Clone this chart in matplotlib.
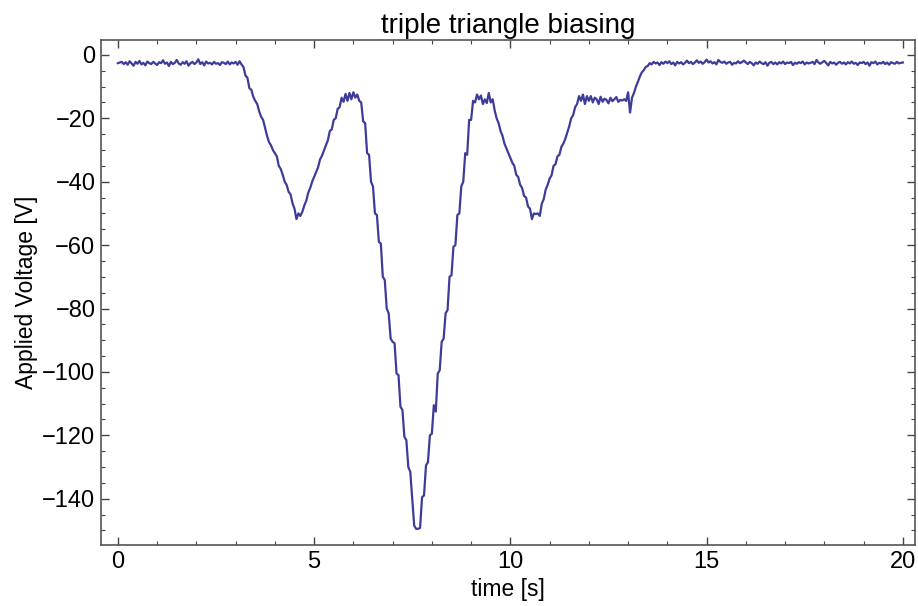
import numpy as np
import matplotlib
matplotlib.use("Agg")
import matplotlib.pyplot as plt
from matplotlib.ticker import MultipleLocator

sample_dt = 0.05
voltage = [
    # 0.00 - 0.95 s
    -2.6, -2.4, -2.2, -2.9, -2.3, -3.1, -2.0, -2.7, -3.4, -2.2, -2.8, -1.9, -3.0, -2.5, -3.3, -2.1, -2.6, -2.9, -2.2, -2.7,
    # 1.00 - 1.95 s
    -3.2, -2.3, -2.6, -1.7, -2.8, -2.4, -3.5, -2.2, -2.9, -2.5, -1.6, -2.7, -3.1, -2.3, -2.8, -2.0, -3.4, -2.6, -2.2, -2.9,
    # 2.00 - 2.95 s
    -2.4, -1.4, -2.9, -2.3, -3.3, -2.1, -2.7, -2.5, -3.0, -2.2, -2.8, -2.6, -3.2, -2.3, -2.5, -2.9, -2.1, -3.0, -2.4, -2.7,
    # 3.00 - 3.95 s
    -2.2, -3.1, -2.0, -3.0, -3.8, -6.5, -7.2, -10.5, -11.0, -13.2, -14.5, -15.5, -17.8, -19.5, -20.5, -23.0, -25.5, -27.5, -28.5, -30.0,
    # 4.00 - 4.95 s
    -31.0, -32.0, -35.0, -36.0, -37.8, -40.0, -41.0, -43.2, -44.0, -46.8, -48.5, -51.8, -50.0, -50.8, -49.5, -47.5, -46.0, -43.5, -42.0, -40.0,
    # 5.00 - 5.95 s
    -38.5, -37.0, -35.5, -33.0, -31.8, -30.2, -28.5, -27.0, -24.0, -23.5, -20.5, -20.0, -17.0, -16.5, -13.5, -14.8, -12.3, -14.5, -12.0, -14.0,
    # 6.00 - 6.95 s
    -11.8, -13.5, -12.5, -14.5, -15.0, -21.0, -21.5, -31.0, -31.5, -40.0, -41.5, -50.0, -50.5, -59.0, -59.5, -70.0, -71.0, -80.0, -81.5, -89.5,
    # 7.00 - 7.95 s
    -90.5, -91.0, -100.5, -101.0, -111.0, -112.0, -120.5, -121.5, -130.0, -131.5, -140.0, -148.5, -149.5, -149.5, -149.2, -139.5, -139.0, -129.5, -128.5, -120.0,
    # 8.00 - 8.95 s
    -119.5, -110.5, -112.5, -100.5, -99.5, -90.5, -89.5, -81.5, -80.5, -70.0, -69.5, -60.5, -60.0, -50.5, -50.0, -41.5, -40.0, -31.0, -31.5, -20.5,
    # 9.00 - 9.95 s
    -20.5, -14.5, -15.0, -12.5, -14.0, -12.8, -15.5, -14.0, -15.2, -12.0, -15.0, -14.0, -17.5, -20.0, -21.5, -24.0, -25.5, -28.0, -29.5, -31.0,
    # 10.00 - 10.95 s
    -32.5, -34.0, -35.0, -37.8, -38.5, -41.0, -42.0, -44.5, -45.0, -47.8, -48.5, -51.8, -50.0, -50.2, -50.0, -50.8, -47.0, -45.5, -42.5, -41.0,
    # 11.00 - 11.95 s
    -39.0, -38.0, -35.0, -34.5, -32.0, -31.5, -29.0, -28.0, -26.5, -24.5, -22.5, -20.0, -19.0, -16.5, -15.5, -13.0, -14.5, -12.5, -15.5, -13.0,
    # 12.00 - 12.95 s
    -14.5, -13.0, -15.0, -13.5, -14.0, -15.5, -13.2, -14.8, -13.8, -14.2, -15.3, -13.5, -14.6, -14.0, -13.3, -14.8, -14.2, -14.4, -14.0, -14.5,
    # 13.00 - 13.95 s
    -11.8, -18.2, -13.5, -12.0, -10.0, -8.5, -6.8, -5.5, -4.8, -3.8, -3.5, -2.6, -3.0, -2.2, -2.7, -2.4, -3.2, -2.3, -2.8, -2.1,
    # 14.00 - 14.95 s
    -2.6, -2.0, -2.9, -2.4, -3.3, -2.2, -2.7, -2.3, -3.0, -2.5, -1.8, -2.6, -2.2, -2.9, -2.4, -1.7, -2.5, -2.1, -2.8, -2.3,
    # 15.00 - 15.95 s
    -1.5, -2.4, -2.0, -2.7, -2.3, -3.0, -1.6, -2.2, -2.5, -2.1, -2.8, -2.4, -2.2, -3.1, -2.5, -2.7, -2.0, -2.6, -2.3, -1.8,
    # 16.00 - 16.95 s
    -2.4, -2.9, -2.2, -2.6, -3.3, -2.4, -2.8, -2.1, -2.6, -2.9, -2.3, -3.4, -2.5, -2.2, -2.9, -2.4, -3.0, -2.3, -2.7, -2.1,
    # 17.00 - 17.95 s
    -2.9, -2.4, -2.6, -2.2, -3.2, -2.5, -2.8, -2.3, -2.6, -2.1, -3.0, -2.4, -2.7, -2.5, -2.2, -2.9, -1.6, -2.4, -2.8, -2.3,
    # 18.00 - 18.95 s
    -1.9, -2.6, -3.3, -2.2, -2.7, -2.4, -3.1, -2.5, -2.2, -2.8, -2.4, -3.0, -2.3, -2.7, -2.1, -2.8, -2.5, -3.2, -2.4, -2.6,
    # 19.00 - 19.95 s
    -2.2, -2.9, -2.4, -3.4, -2.3, -2.6, -2.1, -3.0, -2.5, -2.7, -2.2, -2.9, -2.4, -3.1, -2.3, -2.6, -2.8, -2.2, -2.7, -2.5,
    # 20.00 s
    -2.4,
]
time = np.arange(len(voltage)) * sample_dt

x_major = [0, 5, 10, 15, 20]
y_major = [0, -20, -40, -60, -80, -100, -120, -140]

title = "triple triangle biasing"
xlabel = "time [s]"
ylabel = "Applied Voltage [V]"

# ---- figure ----
plt.rcParams['font.family'] = ['Liberation Sans', 'DejaVu Sans']
fig = plt.figure(figsize=(9.18, 6.06), dpi=100)
ax = fig.add_axes([101 / 918, 1 - 545 / 606, (915 - 101) / 918, (545 - 40) / 606])

ax.plot(time, voltage, color='#3d3d99', linewidth=1.6)

ax.set_xlim(-0.43, 20.31)
ax.set_ylim(-154.6, 4.7)
ax.set_xticks(x_major)
ax.set_yticks(y_major)
ax.xaxis.set_minor_locator(MultipleLocator(1))
ax.yaxis.set_minor_locator(MultipleLocator(5))
ax.tick_params(which='both', direction='in', top=True, right=True,
               color='#444444', labelsize=17, labelcolor='black', pad=4)
ax.tick_params(which='major', length=6, width=1.0)
ax.tick_params(which='minor', length=3, width=0.8)
for s in ax.spines.values():
    s.set_color('#555555')
    s.set_linewidth(1.2)

ax.set_title(title, fontsize=20, pad=5)
ax.set_xlabel(xlabel, fontsize=16.5, labelpad=4)
ax.set_ylabel(ylabel, fontsize=16.5, labelpad=3)

fig.savefig("out.png", dpi=100)
